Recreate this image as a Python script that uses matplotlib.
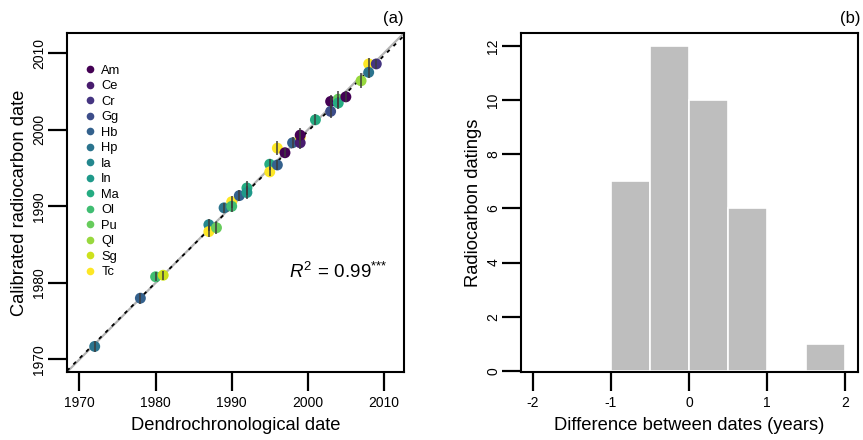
import numpy as np
import matplotlib
matplotlib.use("Agg")
import matplotlib.pyplot as plt
from matplotlib.lines import Line2D

plt.rcParams['font.family'] = ['Liberation Sans', 'DejaVu Sans']
plt.rcParams['axes.unicode_minus'] = False
plt.rcParams['mathtext.fontset'] = 'custom'
plt.rcParams['mathtext.rm'] = 'Liberation Sans'
plt.rcParams['mathtext.it'] = 'Liberation Sans:italic'

# ---- data ----
species = ["Am", "Ce", "Cr", "Gg", "Hb", "Hp", "Ia", "In", "Ma", "Ol", "Pu", "Ql", "Sg", "Tc"]

dendro = [1972, 1978, 1980, 1981, 1987, 1987, 1988, 1989, 1990, 1990, 1991, 1992, 1992,
          1995, 1995, 1996, 1996, 1997, 1998, 1999, 1999, 1999, 2001, 2003, 2003, 2004,
          2004, 2005, 2007, 2008, 2008, 2009]
radio = [1971.7, 1978.0, 1980.8, 1981.0, 1987.6, 1986.7, 1987.2, 1989.8, 1990.6, 1990.0,
         1991.4, 1992.4, 1991.8, 1995.5, 1994.5, 1995.4, 1997.6, 1997.0, 1998.3, 1999.0,
         1998.3, 1999.3, 2001.3, 2003.7, 2002.4, 2004.0, 2003.5, 2004.3, 2006.4, 2008.6,
         2007.5, 2008.6]
radio_err = [0.7, 0.7, 0.6, 0.6, 0.8, 0.7, 0.8, 0.7, 0.8, 0.7, 0.7, 0.9, 0.8, 0.7, 0.6,
             0.6, 0.9, 0.6, 0.7, 0.9, 0.8, 0.9, 0.7, 0.9, 0.8, 1.0, 0.8, 0.7, 1.0, 0.8,
             0.7, 0.7]
point_species = ["Hp", "Hb", "Ol", "Sg", "Ia", "Tc", "Pu", "Hp", "Tc", "Ol", "Hb", "Ma", "In",
                 "Ma", "Tc", "Hb", "Tc", "Am", "Hb", "Tc", "Ce", "Am", "Ma", "Am", "Gg", "Pu",
                 "Ma", "Am", "Ql", "Tc", "Hp", "Cr"]

# regression line
reg_intercept = 22.8
reg_slope = 0.9885

hist_edges = [-1.0, -0.5, 0.0, 0.5, 1.0, 1.5, 2.0]
hist_counts = [7, 12, 10, 6, 0, 1]

x_ticks_a = [1970, 1980, 1990, 2000, 2010]
y_ticks_a = [1970, 1980, 1990, 2000, 2010]
x_ticks_b = [-2, -1, 0, 1, 2]
y_ticks_b = [0, 2, 4, 6, 8, 10, 12]

# ---- figure ----
fig = plt.figure(figsize=(8.63, 4.40), dpi=100)
axA = fig.add_axes([67/863, 1-372/440, (404-67)/863, (372-33)/440])
axB = fig.add_axes([521/863, 1-372/440, (858-521)/863, (372-33)/440])

cols = plt.cm.viridis(np.linspace(0, 1, len(species)))
cmap = {s: c for s, c in zip(species, cols)}

lims = (1968.36, 2012.64)
axA.set_xlim(lims)
axA.set_ylim(lims)

# 1:1 line
axA.plot(lims, lims, color="#b4b4b4", lw=1.6, zorder=1)
# regression line
xx = np.array(lims)
axA.plot(xx, reg_intercept + reg_slope * xx, color="black", lw=1.3, ls=(0, (2, 3)), zorder=1.5)

pc = [cmap[s] for s in point_species]
axA.scatter(dendro, radio, s=62, c=pc, edgecolors="none", zorder=2)
d = np.array(dendro); r = np.array(radio); e = np.array(radio_err)
axA.vlines(d, r - e, r + e, color="#3c3c3c", lw=1.1, zorder=3)

handles = [Line2D([], [], ls="none", marker="o", ms=5.5, mfc=cmap[s], mec="none") for s in species]
axA.legend(handles, species, loc="upper left", bbox_to_anchor=(0.025, 0.93), frameon=False,
           fontsize=9.3, handletextpad=0.4, labelspacing=0.27, handlelength=1.0,
           borderaxespad=0.2)

axA.text(0.66, 0.295, r"$\it{R}^2\,=\,\mathrm{0.99}^{{*}{*}{*}}$", transform=axA.transAxes,
         fontsize=13.5, ha="left", va="center")

axA.set_xticks(x_ticks_a)
axA.set_yticks(y_ticks_a)
axA.set_xlabel("Dendrochronological date", fontsize=13.2, labelpad=5)
axA.set_ylabel("Calibrated radiocarbon date", fontsize=13.2, labelpad=3)

# ---- histogram ----
widths = np.diff(hist_edges)
axB.bar(hist_edges[:-1], hist_counts, width=widths, align="edge", color="#bebebe",
        edgecolor="white", lw=1.2)
axB.set_xlim(-2.15, 2.16)
axB.set_ylim(-0.04, 12.48)
axB.set_xticks(x_ticks_b)
axB.set_yticks(y_ticks_b)
axB.set_xlabel("Difference between dates (years)", fontsize=13.2, labelpad=5)
axB.set_ylabel("Radiocarbon datings", fontsize=13.2, labelpad=3)

for ax in (axA, axB):
    for sp in ax.spines.values():
        sp.set_linewidth(1.5)
    ax.tick_params(axis="both", length=13.5, width=1.6, labelsize=10)
    ax.tick_params(axis="x", pad=4)
    ax.tick_params(axis="y", labelrotation=90, pad=1.5)
    for lab in ax.get_yticklabels():
        lab.set_va("center")

fig.text(404/863, 1-18/440, "(a)", ha="right", va="center", fontsize=12)
fig.text(860/863, 1-18/440, "(b)", ha="right", va="center", fontsize=12)

fig.savefig("out.png", dpi=100)
